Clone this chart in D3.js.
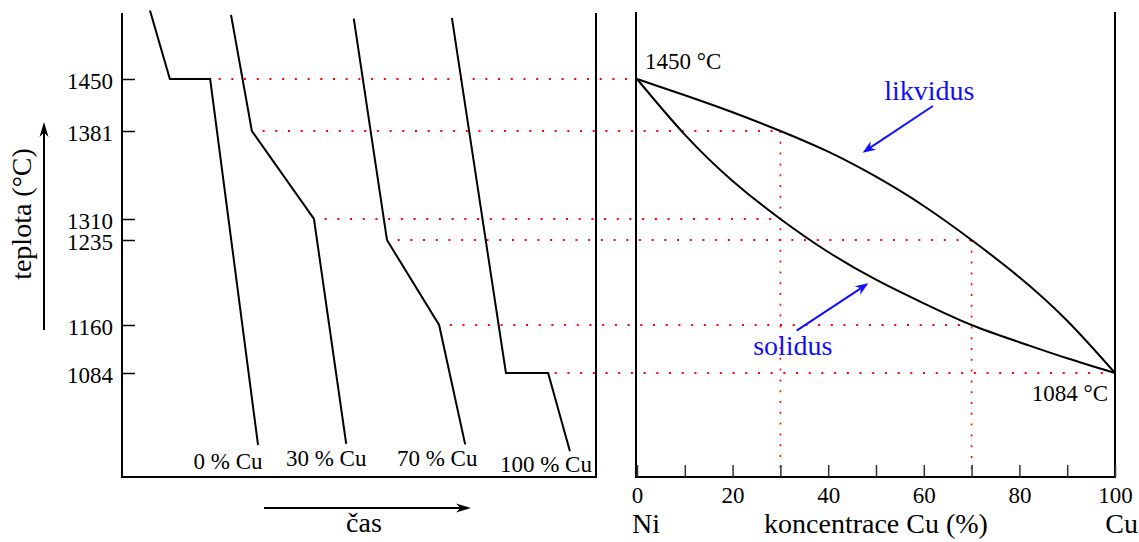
<!DOCTYPE html>
<html>
<head>
<meta charset="utf-8">
<script src="https://cdn.jsdelivr.net/npm/d3@7"></script>
<style>
  html, body { margin: 0; padding: 0; background: #fff; }
  svg { display: block; font-family: "Liberation Serif", "Times New Roman", serif; }
</style>
</head>
<body>
<svg id="chart" width="1139" height="542"></svg>
<script>
// ---- data ---------------------------------------------------------------

// characteristic temperatures (°C) marked on the temperature axis
const tempTicks = [1450, 1381, 1310, 1235, 1160, 1084];

// alloy compositions (% Cu) of the four cooling curves
const alloyCu = [0, 30, 70, 100];

// cooling curves: time (arbitrary units) and temperature (°C)
const coolTime = [
  [5.9, 10.1, 18.6, 28.7],
  [23.0, 27.4, 40.5, 47.3],
  [48.9, 55.9, 66.9, 72.4],
  [69.6, 81.0, 89.9, 94.5]
];
const coolTemp = [
  [1541, 1450, 1450, 970],
  [1535, 1381, 1310, 972],
  [1530, 1235, 1160, 971],
  [1531, 1084, 1084, 960]
];

// Ni–Cu phase diagram: liquidus and solidus (composition % Cu, temperature °C)
const phaseCu   = [0, 10, 20, 30, 40, 50, 60, 70, 80, 90, 100];
const liquidusT = [1450, 1428.5, 1405.9, 1381, 1364.3, 1344.1, 1320.5, 1235, 1202.1, 1163.7, 1084];
const solidusT  = [1450, 1378.1, 1340.7, 1310, 1224.4, 1200.0, 1179.1, 1160, 1132.8, 1107.3, 1084];

// composition axis ticks
const cuTicks = [0, 10, 20, 30, 40, 50, 60, 70, 80, 90, 100];

// ---- layout -------------------------------------------------------------

const svg = d3.select("#chart");
const black = "#000", red = "#ff0000", blue = "#1010ff";

// temperature axis is schematic: each marked temperature gets its own level
const tempLevelsPx = [373, 325, 240, 219, 131, 79];
const y = d3.scaleLinear()
  .domain(d3.sort(tempTicks))
  .range(tempLevelsPx);

const left  = { x0: 122, x1: 596, top: 13, bottom: 477 };
const right = { x0: 637, x1: 1115, top: 12, bottom: 477 };

const xTime = d3.scaleLinear().domain([0, 100]).range([left.x0, left.x1]);
const xCu   = d3.scaleLinear().domain([0, 100]).range([right.x0, right.x1]);

const tickFont = 23, titleFont = 28;

// ---- helpers ------------------------------------------------------------

function arrow(g, x1, y1, x2, y2, color, len, half) {
  const a = Math.atan2(y2 - y1, x2 - x1);
  const ux = Math.cos(a), uy = Math.sin(a);
  const nx = -uy, ny = ux;
  g.append("line")
    .attr("x1", x1).attr("y1", y1)
    .attr("x2", x2 - ux * len * 0.6).attr("y2", y2 - uy * len * 0.6)
    .attr("stroke", color).attr("stroke-width", 2);
  const bx = x2 - ux * len, by = y2 - uy * len;
  const nxp = x2 - ux * len * 0.7, nyp = y2 - uy * len * 0.7;
  g.append("path")
    .attr("d", `M${x2},${y2} L${bx + nx * half},${by + ny * half} L${nxp},${nyp} L${bx - nx * half},${by - ny * half} Z`)
    .attr("fill", color);
}

// ---- dotted guide lines (drawn first, beneath everything) ---------------

const guides = svg.append("g");

// for each marked temperature: where the cooling curve breaks, and
// which composition on the liquidus / solidus has that temperature
const allTimes = coolTime.flat(), allTemps = coolTemp.flat();
tempTicks.forEach(T => {
  const t = allTimes[allTemps.indexOf(T)];
  const i = liquidusT.indexOf(T);
  const cu = i >= 0 ? phaseCu[i] : phaseCu[solidusT.indexOf(T)];
  guides.append("line")
    .attr("x1", xTime(t)).attr("x2", xCu(cu))
    .attr("y1", y(T)).attr("y2", y(T))
    .attr("stroke", red).attr("stroke-width", 2)
    .attr("stroke-dasharray", "2 10.7").attr("stroke-dashoffset", 2);
});

// vertical guides for the intermediate alloys, from liquidus down to the axis
alloyCu.filter(c => c > 0 && c < 100).forEach(c => {
  const T = liquidusT[phaseCu.indexOf(c)];
  guides.append("line")
    .attr("x1", xCu(c)).attr("x2", xCu(c))
    .attr("y1", y(T)).attr("y2", right.bottom)
    .attr("stroke", red).attr("stroke-width", 1.6)
    .attr("stroke-dasharray", "2 8.8");
});

// ---- left panel: cooling curves -----------------------------------------

const lp = svg.append("g");

lp.append("path")
  .attr("d", `M${left.x0},${left.top} V${left.bottom} H${left.x1} V${left.top}`)
  .attr("fill", "none").attr("stroke", black).attr("stroke-width", 2);

const yAxis = d3.axisLeft(y)
  .tickValues(tempTicks)
  .tickSize(-13)
  .tickPadding(9)
  .tickFormat(d3.format("d"));

const ya = lp.append("g").attr("transform", `translate(${left.x0},0)`).call(yAxis);
ya.select(".domain").remove();
ya.selectAll(".tick line").attr("stroke", black).attr("stroke-width", 1.5);
ya.selectAll(".tick text")
  .attr("font-family", "Liberation Serif, serif")
  .attr("font-size", tickFont).attr("fill", black).attr("dy", "0.4em");

const coolLine = d3.line().x(d => xTime(d[0])).y(d => y(d[1]));
const labelDx = [-30, -20, -28, -24];
const labelDy = [24, 22, 21.5, 20.7];

alloyCu.forEach((c, k) => {
  const pts = d3.zip(coolTime[k], coolTemp[k]);
  lp.append("path")
    .attr("d", coolLine(pts))
    .attr("fill", "none").attr("stroke", black).attr("stroke-width", 2)
    .attr("stroke-linejoin", "miter");
  const end = pts[pts.length - 1];
  lp.append("text")
    .attr("x", xTime(end[0]) + labelDx[k])
    .attr("y", y(end[1]) + labelDy[k])
    .attr("text-anchor", "middle")
    .attr("font-size", tickFont)
    .text(`${c} % Cu`);
});

// axis titles with arrows
lp.append("text")
  .attr("transform", "translate(31,214) rotate(-90)")
  .attr("text-anchor", "middle")
  .attr("font-size", titleFont)
  .text("teplota (°C)");
arrow(lp, 44, 330, 44, 122, black, 15, 4.5);

lp.append("text")
  .attr("x", 364).attr("y", 532)
  .attr("text-anchor", "middle")
  .attr("font-size", titleFont)
  .text("čas");
arrow(lp, 264, 508, 471, 508, black, 15, 4.5);

// ---- right panel: phase diagram -----------------------------------------

const rp = svg.append("g");

rp.append("path")
  .attr("d", `M${right.x0 - 1},${right.top} V${right.bottom} H${right.x1} V${right.top}`)
  .attr("fill", "none").attr("stroke", black).attr("stroke-width", 2);

const xAxis = d3.axisBottom(xCu)
  .tickValues(cuTicks)
  .tickSize(-12)
  .tickPadding(10)
  .tickFormat(d => d % 20 === 0 ? d : "");
const xa = rp.append("g").attr("transform", `translate(0,${right.bottom})`).call(xAxis);
xa.select(".domain").remove();
xa.selectAll(".tick line").attr("stroke", "#333").attr("stroke-width", 1.5);
xa.selectAll(".tick text")
  .attr("font-family", "Liberation Serif, serif")
  .attr("font-size", tickFont).attr("fill", black);

const phaseLine = d3.line().x(d => xCu(d[0])).y(d => y(d[1])).curve(d3.curveNatural);
[liquidusT, solidusT].forEach(T => {
  rp.append("path")
    .attr("d", phaseLine(d3.zip(phaseCu, T)))
    .attr("fill", "none").attr("stroke", black).attr("stroke-width", 2);
});

// melting points of the pure metals
rp.append("text")
  .attr("x", xCu(0) + 8).attr("y", y(1450) - 10)
  .attr("font-size", tickFont).text("1450 °C");
rp.append("text")
  .attr("x", xCu(100) - 7).attr("y", y(1084) + 28)
  .attr("text-anchor", "end")
  .attr("font-size", tickFont).text("1084 °C");

// curve names with pointers (positions in composition / temperature)
rp.append("text")
  .attr("x", xCu(51.7)).attr("y", y(1422))
  .attr("font-size", titleFont).attr("fill", blue).text("likvidus");
arrow(rp, xCu(61.9), y(1414.2), xCu(47.2), y(1363.5), blue, 13, 5);

rp.append("text")
  .attr("x", xCu(24.3)).attr("y", y(1112.5))
  .attr("font-size", titleFont).attr("fill", blue).text("solidus");
arrow(rp, xCu(33.4), y(1151), xCu(48.4), y(1196.8), blue, 13, 5);

// composition axis titles
rp.append("text")
  .attr("x", 632).attr("y", 533)
  .attr("font-size", titleFont).text("Ni");
rp.append("text")
  .attr("x", (right.x0 + right.x1) / 2).attr("y", 533)
  .attr("text-anchor", "middle")
  .attr("font-size", titleFont).text("koncentrace Cu (%)");
rp.append("text")
  .attr("x", 1138).attr("y", 533)
  .attr("text-anchor", "end")
  .attr("font-size", titleFont).text("Cu");
</script>
</body>
</html>
